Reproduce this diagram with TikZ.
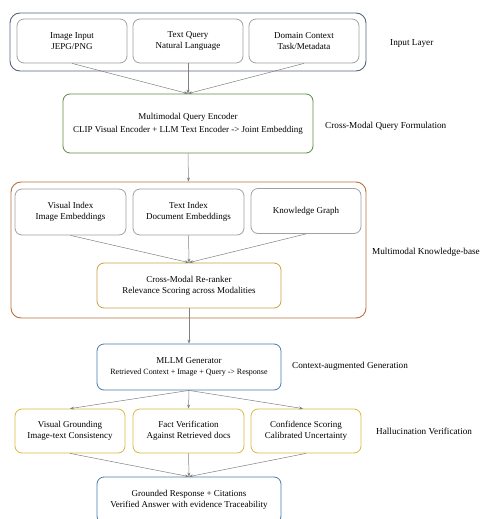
\documentclass[tikz,border=0pt]{standalone}
\usepackage{fontspec}
\setmainfont{Liberation Serif}
\usetikzlibrary{arrows.meta}
\definecolor{inframe}{HTML}{56647F}
\definecolor{encgreen}{HTML}{5A8A40}
\definecolor{kbbrown}{HTML}{B8703A}
\definecolor{rrgold}{HTML}{C8A040}
\definecolor{genblue}{HTML}{4A7AA8}
\definecolor{vfgold}{HTML}{D8B840}
\definecolor{boxgray}{HTML}{A0A0A0}
\definecolor{arrgray}{HTML}{808080}
\tikzset{
  box/.style={draw=boxgray, line width=0.8pt, rounded corners=7pt, align=center,
    inner sep=0pt, font=\fontsize{9}{11}\selectfont},
  layer/.style={draw=#1, line width=0.9pt, rounded corners=10pt, inner sep=0pt},
  lbl/.style={anchor=west, inner sep=0pt, font=\fontsize{9.2}{11}\selectfont},
  arr/.style={draw=arrgray, line width=0.5pt, -{Stealth[length=4pt,width=3pt]}}
}
\begin{document}
\begin{tikzpicture}[x=1pt,y=-1pt]
\useasboundingbox (0,0) rectangle (483,519);
% input layer
\node[layer=inframe, minimum width=356, minimum height=58] (inlayer) at (188,42) {};
\node[box, minimum width=110, minimum height=44] (img) at (72,41) {Image Input\\JEPG/PNG};
\node[box, minimum width=110, minimum height=44] (txt) at (188,41) {Text Query\\Natural Language};
\node[box, minimum width=110, minimum height=44] (dom) at (304,41) {Domain Context\\Task/Metadata};
\node[lbl] (lin) at (390,43) {Input Layer};
% query encoder
\node[box, draw=encgreen, minimum width=250, minimum height=59] (enc) at (188,123.5)
  {Multimodal Query Encoder\\[2pt]CLIP Visual Encoder + LLM Text Encoder -> Joint Embedding};
\node[lbl] (lenc) at (325,126) {Cross-Modal Query Formulation};
% knowledge base
\node[layer=kbbrown, minimum width=355, minimum height=136] (kb) at (188.5,250) {};
\node[box, minimum width=111, minimum height=46] (vis) at (70.5,212) {Visual Index\\Image Embeddings};
\node[box, minimum width=111, minimum height=46] (tix) at (188.5,212) {Text Index\\Document Embeddings};
\node[box, minimum width=110, minimum height=45] (kg) at (306,211) {Knowledge Graph};
\node[box, draw=rrgold, minimum width=184, minimum height=45] (rr) at (189,285.5)
  {Cross-Modal Re-ranker\\Relevance Scoring across Modalities};
\node[lbl] (lkb) at (372,252) {Multimodal Knowledge-base};
% generator
\node[box, draw=genblue, minimum width=184, minimum height=46] (gen) at (189,367)
  {MLLM Generator\\{\fontsize{8}{10}\selectfont Retrieved Context + Image + Query -> Response}};
\node[lbl] (lgen) at (292,366) {Context-augmented Generation};
% verification
\node[box, draw=vfgold, minimum width=110, minimum height=44] (vg) at (70,431) {Visual Grounding\\Image-text Consistency};
\node[box, draw=vfgold, minimum width=111, minimum height=44] (fv) at (188.5,431) {Fact Verification\\Against Retrieved docs};
\node[box, draw=vfgold, minimum width=110, minimum height=44] (cs) at (306,431) {Confidence Scoring\\Calibrated Uncertainty};
\node[lbl] (lvf) at (376,431) {Hallucination Verification};
% output
\node[box, draw=genblue, minimum width=184, minimum height=46] (out) at (189,500)
  {Grounded Response + Citations\\Verified Answer with evidence Traceability};
% connectors
\foreach \s in {img,txt,dom} \draw[arr] (\s.south) -- (enc.north);
\draw[arr] (enc.south) -- (kb.north);
\foreach \s in {vis,tix,kg} \draw[arr] (\s.south) -- (rr.north);
\draw[arr] (rr.south) -- (gen.north);
\draw[arr] (gen.south) -- (vg.north);
\draw[arr] (gen.south) -- (fv.north);
\draw[arr] (gen.south) -- ([xshift=-3pt]cs.north);
\foreach \s in {vg,fv,cs} \draw[arr] (\s.south) -- (out.north);
\end{tikzpicture}
\end{document}
